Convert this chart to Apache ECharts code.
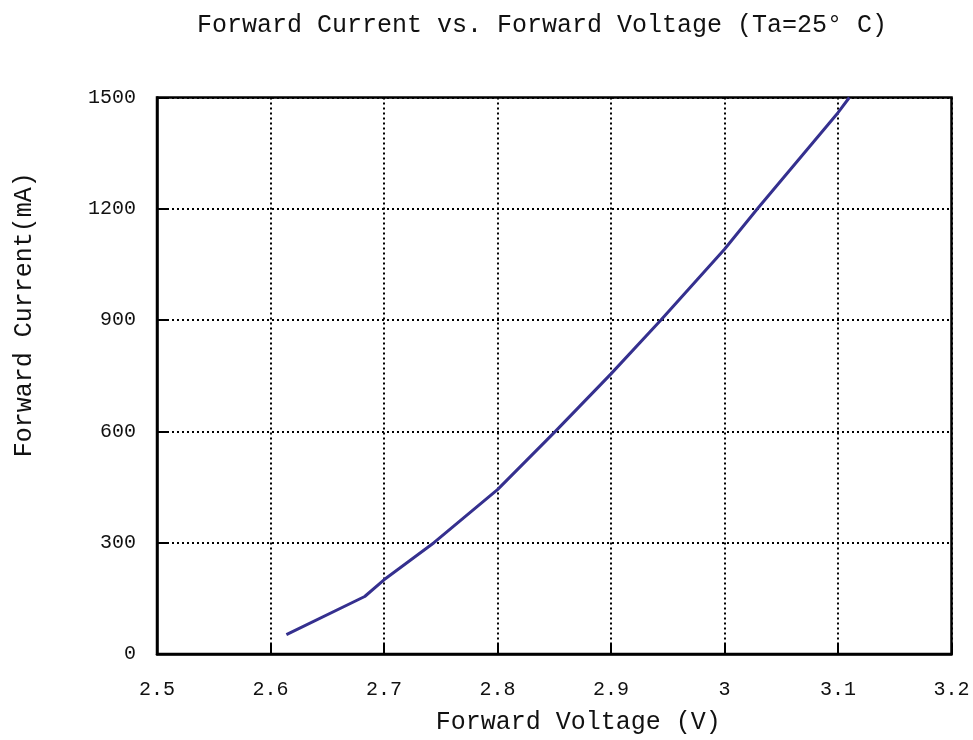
<!DOCTYPE html>
<html>
<head>
<meta charset="utf-8">
<title>Forward Current vs. Forward Voltage</title>
<script src="https://cdn.jsdelivr.net/npm/echarts@6/dist/echarts.min.js"></script>
<style>
  html, body { margin: 0; padding: 0; background: #ffffff; }
  #chart { width: 973px; height: 740px; }
</style>
</head>
<body>
<div id="chart"></div>
<script>
// Forward voltage (V) and the matching forward current (mA)
const voltage = [2.614, 2.683, 2.700, 2.744, 2.800, 2.851, 2.900, 2.944, 3.000, 3.029, 3.100, 3.110];
const current = [52, 155, 200, 300, 443, 600, 755, 900, 1091, 1200, 1459, 1500];

// Axis ranges and tick spacing
const xMin = 2.5, xMax = 3.2, xStep = 0.1;
const yMin = 0, yMax = 1500, yStep = 300;

const titleText = 'Forward Current vs. Forward Voltage (Ta=25° C)';
const xName = 'Forward Voltage (V)';
const yName = 'Forward Current(mA)';

const FONT = '"Liberation Mono", "DejaVu Sans Mono", monospace';
const INK = '#111111';

const points = voltage.map((v, i) => [v, current[i]]);

const chart = echarts.init(document.getElementById('chart'), null, { renderer: 'canvas' });

const gridLine = { show: true, lineStyle: { color: '#000', type: [2, 3], width: 2 } };

chart.setOption({
  backgroundColor: '#ffffff',
  animation: false,
  title: {
    text: titleText,
    left: 537,
    top: 8,
    textAlign: 'center',
    textStyle: { fontFamily: FONT, fontSize: 25, fontWeight: 'normal', color: INK }
  },
  grid: {
    left: 157, right: 21.5, top: 97.5, bottom: 85.5,
    show: true, borderColor: '#000', borderWidth: 2.5, backgroundColor: '#fff'
  },
  xAxis: {
    type: 'value',
    min: xMin, max: xMax, interval: xStep,
    name: xName,
    nameLocation: 'middle',
    nameGap: 56,
    nameTextStyle: { fontFamily: FONT, fontSize: 25, color: INK, padding: [0, 0, 0, 48] },
    axisLine: { show: true, lineStyle: { color: '#000', width: 2.5 } },
    axisTick: { show: true, inside: true, length: 10, lineStyle: { color: '#000', width: 2 } },
    axisLabel: {
      margin: 26, fontFamily: FONT, fontSize: 20, color: INK,
      formatter: v => String(parseFloat(v.toFixed(1)))
    },
    splitLine: gridLine
  },
  yAxis: {
    type: 'value',
    min: yMin, max: yMax, interval: yStep,
    name: yName,
    nameLocation: 'middle',
    nameGap: 120,
    nameTextStyle: { fontFamily: FONT, fontSize: 25, color: INK, padding: [0, 0, 0, 122] },
    axisLine: { show: true, lineStyle: { color: '#000', width: 2.5 } },
    axisTick: { show: true, inside: true, length: 10, lineStyle: { color: '#000', width: 2 } },
    axisLabel: {
      margin: 21, fontFamily: FONT, fontSize: 20, color: INK,
      formatter: v => String(Math.round(v))
    },
    splitLine: gridLine
  },
  series: [{
    type: 'line',
    data: points,
    showSymbol: false,
    smooth: false,
    clip: true,
    lineStyle: { color: '#35308f', width: 3 }
  }]
});
</script>
</body>
</html>
